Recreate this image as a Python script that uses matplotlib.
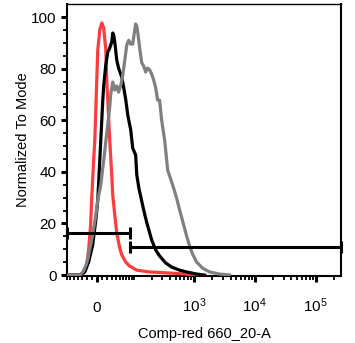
import numpy as np
import matplotlib
matplotlib.use("Agg")
import matplotlib.pyplot as plt

plt.rcParams['font.family'] = ['Liberation Sans', 'DejaVu Sans']
plt.rcParams['mathtext.fontset'] = 'custom'
plt.rcParams['mathtext.rm'] = 'Liberation Sans'
plt.rcParams['mathtext.it'] = 'Liberation Sans:italic'

# histogram traces (fluorescence, % of mode)
red_x = [-71, -35, -26, -20, -16, -12, -10, -8, -6, -3.8, -1.9, 0, 1.9, 5.8, 9.7, 13.6, 17.7,
         19.7, 21.8, 26, 30.4, 32.7, 37.4, 42.3, 50, 55.7, 67.9, 81, 110, 185, 400, 706, 1245]
red_y = [0, 0, 0.8, 3.9, 9.7, 19.4, 29, 36.8, 44.6, 52.3, 64, 75.6, 87.2, 95, 97.7, 95.7, 87.2,
         75.6, 67.8, 52.3, 38.8, 31, 23.3, 16.3, 10.5, 7.8, 5, 3.5, 1.9, 1.2, 0.8, 0.4, 0]

black_x = [-71, -35, -24, -16, -8, -1.9, 1.9, 5.8, 11.7, 13.6, 17.7, 21.8, 26, 30.4, 32.7, 35,
           37.4, 42.3, 47, 55.7, 61.6, 67.9, 74.4, 85, 92.7, 105, 110, 120, 129, 146, 164, 200,
           234, 272, 343, 431, 584, 761, 1112, 1504]
black_y = [0, 0, 1.2, 5, 11.6, 21.3, 29, 44.6, 67.8, 73.6, 81.4, 86.4, 88, 90.3, 93.8, 93,
           90.3, 83.3, 80.2, 76.7, 72.5, 67.8, 62, 56.2, 49.2, 46.5, 38.8, 33.7, 30.6, 25.2, 20.5, 13.6,
           9.7, 7.4, 4.7, 3.1, 1.9, 1.2, 0.4, 0]

gray_x = [-71, -35, -28, -22, -18, -12, -8, -1.9, 1.9, 7.7, 13.6, 19.7, 26, 28, 32.7, 37.4,
          42.3, 47, 53, 58.7, 64.7, 71, 77.8, 85, 92.7, 101, 105, 110, 115, 124, 135, 146, 158,
          170, 185, 200, 216, 234, 252, 272, 294, 330, 370, 448, 521, 584, 680, 761, 853, 956,
          1112, 1393, 1816, 2648, 3860]
gray_y = [0, 0, 1.2, 3.5, 5.8, 11.6, 15.5, 23.3, 29, 34.9, 44.6, 55, 65.1, 69.8, 74.8, 71.7,
          73.3, 70.9, 73.6, 77.5, 83.3, 89.1, 91, 89.5, 89.5, 95, 97.3, 96.5, 93.8, 88, 82.2, 81, 78.7,
          80.2, 79.5, 77.9, 75.6, 72.5, 67.8, 67.8, 60, 52.3, 40.7, 34.9, 29.8, 25.2, 19.4, 15.1, 11.2, 8.1,
          5, 2.7, 1.2, 0.4, 0]

# gates: (start, end, height)
gate1 = (-70, 81, 16.3)
gate2 = (81, 262144, 10.9)

major_ticks = [0, 1000, 10000, 100000]
major_labels = ['0', r'$10^3$', r'$10^4$', r'$10^5$']
minor_ticks = ([-70, -60, -50, -40, -30, -20, -10] + list(range(10, 100, 10))
               + list(range(100, 1000, 100)) + list(range(2000, 10000, 1000))
               + list(range(20000, 100000, 10000)) + [200000])

W = 51.0


def fwd(x):
    return np.arcsinh(np.asarray(x) / W) / np.log(10)


def inv(y):
    return W * np.sinh(np.asarray(y) * np.log(10))


fig = plt.figure(figsize=(3.55, 3.43), dpi=100)
ax = fig.add_axes([0.189, 0.195, 0.772, 0.793])
ax.set_xscale('function', functions=(fwd, inv))

ax.plot(red_x, red_y, color='#ff3b3b', lw=2.3, zorder=3)
ax.plot(black_x, black_y, color='black', lw=2.3, zorder=4)
ax.plot(gray_x, gray_y, color='#808080', lw=2.3, zorder=5)

for g in (gate1, gate2):
    ax.plot([g[0], g[1]], [g[2], g[2]], color='black', lw=2.2, zorder=6, clip_on=False)
    ax.vlines([g[0], g[1]], g[2] - 2.4, g[2] + 2.4, color='black', lw=2.2, zorder=6, clip_on=False)

ax.set_xlim(-70, 262144)
ax.set_ylim(-0.4, 105)

ax.set_xticks(major_ticks)
ax.set_xticklabels(major_labels)
ax.set_xticks(minor_ticks, minor=True)
ax.set_yticks([0, 20, 40, 60, 80, 100])
ax.set_yticks(np.arange(0, 105, 5), minor=True)

ax.tick_params(which='major', direction='out', length=4.5, width=2.2, labelsize=11)
ax.tick_params(which='minor', direction='out', length=3, width=1.3)
ax.tick_params(axis='x', which='major', pad=21)
ax.tick_params(axis='y', which='major', pad=3)
for lab in ax.get_xticklabels():
    lab.set_verticalalignment('baseline')

for side in ['left', 'bottom', 'right']:
    ax.spines[side].set_linewidth(1.5)
ax.spines['top'].set_linewidth(1.0)

ax.set_ylabel('Normalized To Mode', fontsize=10.5, labelpad=0.8)
ax.set_xlabel('Comp-red 660_20-A', fontsize=10.5, labelpad=9)

fig.savefig('out.png', dpi=100)
